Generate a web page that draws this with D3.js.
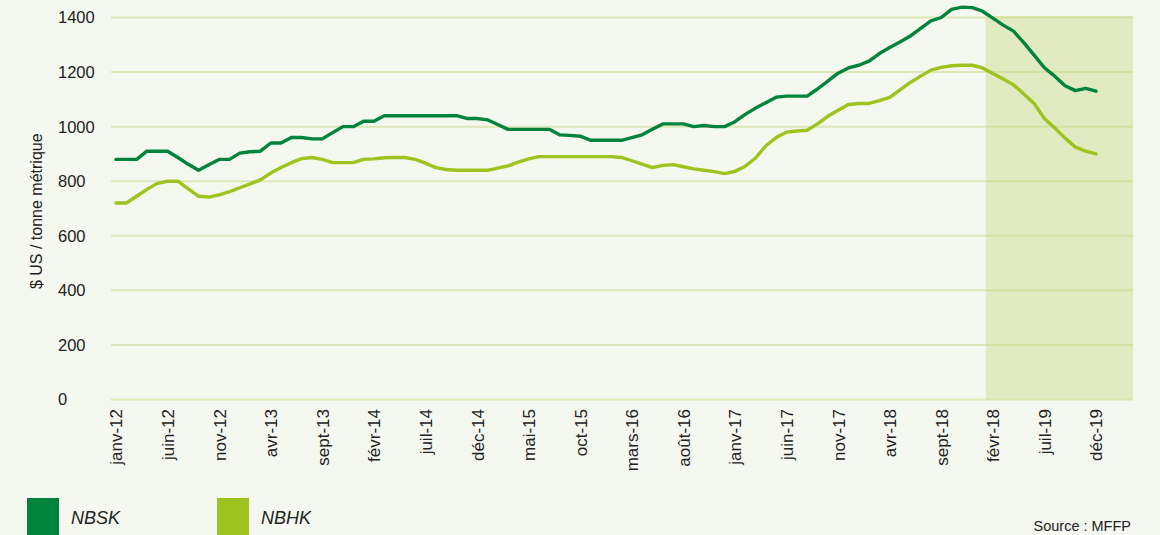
<!DOCTYPE html>
<html>
<head>
<meta charset="utf-8">
<script src="https://cdn.jsdelivr.net/npm/d3@7"></script>
<style>
  html, body { margin: 0; padding: 0; background: #f5f8ee; }
  svg { display: block; font-family: "Liberation Sans", Arial, sans-serif; }
</style>
</head>
<body>
<div id="chart"></div>
<script>
// months janv-12 .. déc-19 (category keys)
var months = [];
for (var yr = 2012; yr <= 2019; yr++) {
    for (var m = 1; m <= 12; m++) months.push(yr + "-" + (m < 10 ? "0" + m : m));
}

// labels shown every 5 months (as printed on the original, incl. "févr-18")
var tickLabels = ["janv-12", "juin-12", "nov-12", "avr-13", "sept-13", "févr-14", "juil-14", "déc-14",
    "mai-15", "oct-15", "mars-16", "août-16", "janv-17", "juin-17", "nov-17", "avr-18",
    "sept-18", "févr-18", "juil-19", "déc-19"];

var nbsk = [880, 880, 880, 910, 910, 910, 887, 862, 840, 860, 880, 880,
    903, 908, 910, 940, 940, 960, 960, 955, 955, 978, 1000, 1000,
    1020, 1020, 1040, 1040, 1040, 1040, 1040, 1040, 1040, 1040, 1030, 1030,
    1025, 1008, 990, 990, 990, 990, 990, 970, 968, 965, 950, 950,
    950, 950, 960, 970, 990, 1010, 1010, 1010, 1000, 1004, 1000, 1000,
    1018, 1045, 1068, 1088, 1108, 1112, 1112, 1112, 1138, 1167, 1196, 1215,
    1225, 1240, 1268, 1290, 1310, 1332, 1360, 1388, 1400, 1430, 1438, 1436,
    1423, 1398, 1372, 1350, 1308, 1262, 1216, 1185, 1150, 1132, 1140, 1130];

var nbhk = [720, 720, 745, 770, 792, 800, 800, 772, 745, 742, 750, 762,
    776, 790, 805, 830, 850, 868, 883, 887, 880, 868, 868, 868,
    880, 882, 886, 887, 887, 880, 866, 850, 843, 840, 840, 840,
    840, 848, 856, 870, 882, 890, 890, 890, 890, 890, 890, 890,
    890, 887, 875, 863, 850, 858, 861, 853, 845, 840, 835, 828,
    836, 855, 885, 930, 960, 980, 984, 987, 1010, 1038, 1060, 1081,
    1085, 1085, 1095, 1107, 1135, 1162, 1185, 1207, 1217, 1223, 1225, 1225,
    1215, 1195, 1175, 1153, 1120, 1085, 1030, 995, 958, 925, 910, 900];

var yTicks = [0, 200, 400, 600, 800, 1000, 1200, 1400];
var seriesNames = ["NBSK", "NBHK"];
var seriesColors = ["#00833c", "#9cc31e"];
// shaded (forecast) zone starts after janv-19
var shadeFrom = "2019-01";

const W = 1160, H = 535;
const gridLeft = 111, gridRight = 1133;

const svg = d3.select("#chart").append("svg")
    .attr("width", W)
    .attr("height", H);

svg.append("rect").attr("width", W).attr("height", H).attr("fill", "#f5f8ee");

const x = d3.scalePoint().domain(months).range([116, 1096]);
const y = d3.scaleLinear().domain([0, 1400]).range([399.5, 17.5]);

// shaded zone
const shadeX = x(shadeFrom) + x.step() / 2 - 2;
svg.append("rect")
    .attr("x", shadeX)
    .attr("y", y(1400) - 1.5)
    .attr("width", gridRight - shadeX)
    .attr("height", y(0) - y(1400) + 1.5)
    .attr("rx", 2)
    .attr("fill", "#e1eac1");

// grid lines
svg.append("g").selectAll("line")
    .data(yTicks)
    .enter()
    .append("line")
    .attr("x1", gridLeft)
    .attr("x2", gridRight)
    .attr("y1", d => y(d))
    .attr("y2", d => y(d))
    .attr("stroke", "#c8d98a")
    .attr("stroke-opacity", 0.55)
    .attr("stroke-width", 2);

// y tick labels (left aligned)
svg.append("g").selectAll("text")
    .data(yTicks)
    .enter()
    .append("text")
    .attr("x", 58)
    .attr("y", d => y(d))
    .attr("dy", "0.36em")
    .attr("font-size", 16.5)
    .attr("fill", "#222")
    .text(d => d);

// y axis title
svg.append("text")
    .attr("transform", "translate(42," + (y(690)) + ") rotate(-90)")
    .attr("text-anchor", "middle")
    .attr("font-size", 16)
    .attr("fill", "#222")
    .text("$ US / tonne métrique");

// x axis (rotated labels)
const xAxis = d3.axisBottom(x)
    .tickValues(months.filter((d, i) => i % 5 === 0))
    .tickSize(0)
    .tickFormat(d => tickLabels[months.indexOf(d) / 5]);

const gx = svg.append("g")
    .attr("transform", "translate(0,409)")
    .call(xAxis);
gx.select(".domain").remove();
gx.selectAll("text")
    .attr("font-family", "Liberation Sans, Arial, sans-serif")
    .attr("font-size", 17)
    .attr("fill", "#222")
    .attr("text-anchor", "end")
    .attr("transform", "rotate(-90)")
    .attr("x", 0)
    .attr("y", 0)
    .attr("dy", "0.35em");

// lines
const line = d3.line()
    .x((d, i) => x(months[i]))
    .y(d => y(d));

[nbsk, nbhk].forEach(function (vals, k) {
    svg.append("path")
        .datum(vals)
        .attr("fill", "none")
        .attr("stroke", seriesColors[k])
        .attr("stroke-width", 3.4)
        .attr("stroke-linejoin", "round")
        .attr("stroke-linecap", "round")
        .attr("d", line);
});

// legend
const legX = [27, 217];
const leg = svg.append("g").selectAll("g")
    .data(seriesNames)
    .enter()
    .append("g");
leg.append("rect")
    .attr("x", (d, i) => legX[i])
    .attr("y", 498)
    .attr("width", 32)
    .attr("height", 40)
    .attr("fill", (d, i) => seriesColors[i]);
leg.append("text")
    .attr("x", (d, i) => legX[i] + 44)
    .attr("y", 524)
    .attr("font-size", 18)
    .attr("font-style", "italic")
    .attr("fill", "#222")
    .text(d => d);

// source
svg.append("text")
    .attr("x", 1131)
    .attr("y", 531)
    .attr("text-anchor", "end")
    .attr("font-size", 14.5)
    .attr("fill", "#222")
    .text("Source : MFFP");
</script>
</body>
</html>
